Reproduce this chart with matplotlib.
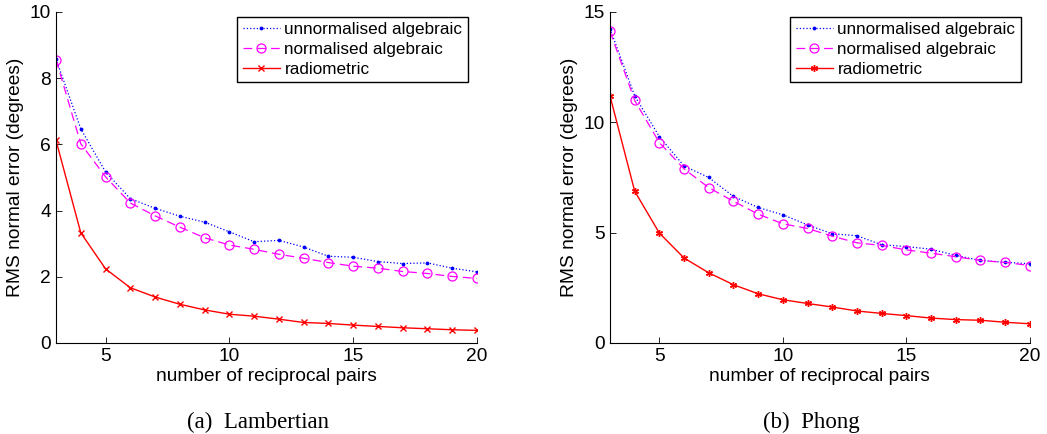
#!/usr/bin/env python3
"""RMS normal error vs number of reciprocal pairs (Lambertian / Phong)."""
import numpy as np
import matplotlib.pyplot as plt

# ---------------------------------------------------------
# Data
# ---------------------------------------------------------
pairs = np.arange(3, 21)

lamb_unnorm = [8.58, 6.47, 5.17, 4.36, 4.07, 3.83, 3.65, 3.36, 3.06,
               3.10, 2.90, 2.62, 2.59, 2.46, 2.40, 2.42, 2.26, 2.15]
lamb_norm = [8.56, 6.02, 5.02, 4.23, 3.84, 3.50, 3.18, 2.96, 2.83,
             2.68, 2.56, 2.43, 2.32, 2.26, 2.16, 2.10, 2.01, 1.95]
lamb_radio = [6.12, 3.33, 2.24, 1.67, 1.39, 1.17, 1.00, 0.87, 0.81,
              0.72, 0.62, 0.59, 0.54, 0.50, 0.46, 0.43, 0.40, 0.38]

phong_unnorm = [14.25, 11.20, 9.35, 8.02, 7.50, 6.64, 6.14, 5.81, 5.35,
                4.95, 4.86, 4.45, 4.37, 4.25, 3.97, 3.74, 3.66, 3.59]
phong_norm = [14.13, 10.99, 9.08, 7.89, 7.04, 6.42, 5.84, 5.40, 5.19,
              4.84, 4.54, 4.42, 4.22, 4.07, 3.91, 3.74, 3.65, 3.51]
phong_radio = [11.20, 6.88, 4.98, 3.85, 3.18, 2.64, 2.23, 1.96, 1.79,
               1.63, 1.45, 1.34, 1.24, 1.13, 1.06, 1.03, 0.94, 0.87]

labels = ["unnormalised algebraic", "normalised algebraic", "radiometric"]

plt.rcParams['font.family'] = ['Liberation Sans', 'DejaVu Sans']
plt.rcParams['font.size'] = 13.8


def draw_panel(ax, unnorm, norm, radio, radio_marker, ylim, yticks, caption):
    ax.plot(pairs, unnorm, color='blue', linestyle=':', linewidth=0.9,
            marker='.', markersize=3.5, label=labels[0])
    ax.plot(pairs, norm, color='magenta', linestyle=(0, (7, 4)), linewidth=0.9,
            marker='o', markersize=6.5, markerfacecolor='none',
            markeredgewidth=0.9, label=labels[1])
    ax.plot(pairs, radio, color='red', linestyle='-', linewidth=1.0,
            marker=radio_marker, markersize=5, markeredgewidth=1.0,
            label=labels[2])

    ax.set_xlim(3, 20)
    ax.set_ylim(*ylim)
    ax.set_xticks([5, 10, 15, 20])
    ax.set_yticks(yticks)
    ax.tick_params(direction='in', length=4, width=0.6)
    ax.spines['top'].set_visible(False)
    ax.spines['right'].set_visible(False)
    ax.set_xlabel("number of reciprocal pairs", labelpad=2)
    ax.set_ylabel("RMS normal error (degrees)", labelpad=4)

    leg = ax.legend(loc='upper right', bbox_to_anchor=(0.99, 1.0),
                    fontsize=12.3, fancybox=False, framealpha=1,
                    edgecolor='black', borderpad=0.3, labelspacing=0.28,
                    handlelength=2.2, handletextpad=0.25, borderaxespad=0.3)
    leg.get_frame().set_linewidth(1.0)

    ax.text(0.48, -0.24, caption, transform=ax.transAxes, ha='center',
            va='center', fontsize=16.5, family=['Liberation Serif'])


fig = plt.figure(figsize=(10.47, 4.34), dpi=100)
ax1 = fig.add_axes([0.0535, 0.2097, 0.402, 0.7627])
ax2 = fig.add_axes([0.5826, 0.2097, 0.401, 0.7627])

draw_panel(ax1, lamb_unnorm, lamb_norm, lamb_radio, 'x',
           (0, 10), [0, 2, 4, 6, 8, 10], "(a)  Lambertian")
draw_panel(ax2, phong_unnorm, phong_norm, phong_radio, (6, 2, 0),
           (0, 15), [0, 5, 10, 15], "(b)  Phong")

fig.savefig("out.png", dpi=100)
